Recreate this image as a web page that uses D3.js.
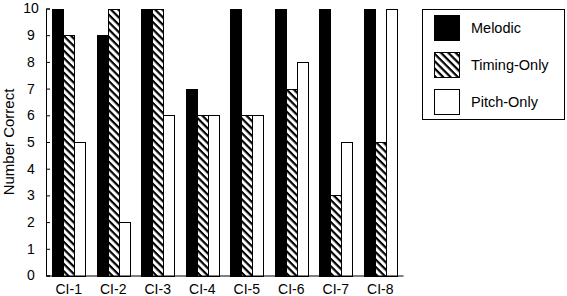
<!DOCTYPE html>
<html><head><meta charset="utf-8">
<script src="https://cdn.jsdelivr.net/npm/d3@7"></script>
<style>
html,body{margin:0;padding:0;background:#fff;}
text{font-family:"Liberation Sans",Arial,Helvetica,sans-serif;fill:#000;}
</style>
</head><body>
<svg id="chart" width="567" height="296"></svg>
<script>
const categories = ["CI-1","CI-2","CI-3","CI-4","CI-5","CI-6","CI-7","CI-8"];
const seriesNames = ["Melodic","Timing-Only","Pitch-Only"];
const melodic    = [10, 9, 10, 7, 10, 10, 10, 10];
const timingOnly = [9, 10, 10, 6, 6, 7, 3, 5];
const pitchOnly  = [5, 2, 6, 6, 6, 8, 5, 10];
const yTicks = [0,1,2,3,4,5,6,7,8,9,10];
const yLabel = "Number Correct";

(function(){
const seriesValues = [melodic, timingOnly, pitchOnly];
const fills = ["#000", "url(#hatch)", "#fff"];

const svg = d3.select("#chart");
const defs = svg.append("defs");
const pat = defs.append("pattern")
  .attr("id","hatch").attr("patternUnits","userSpaceOnUse")
  .attr("width",5.2).attr("height",5.2)
  .attr("patternTransform","rotate(45)");
pat.append("rect").attr("width",5.2).attr("height",5.2).attr("fill","#fff");
pat.append("rect").attr("x",0).attr("y",0).attr("width",5.2).attr("height",2.2).attr("fill","#000");

const mLeft = 46, mRight = 403, mTop = 8.5, mBottom = 275.5;

const x = d3.scaleBand().domain(categories).range([mLeft, mRight])
  .paddingInner(0.26).paddingOuter(0.14);
const xs = d3.scaleBand().domain(seriesNames).range([0, x.bandwidth()]);
const y = d3.scaleLinear().domain([0,10]).range([mBottom, mTop]);

seriesNames.forEach((s, si) => {
  svg.append("g").selectAll("rect")
    .data(categories.map((c,i) => ({c, v: seriesValues[si][i]})))
    .join("rect")
    .attr("x", d => Math.round(x(d.c) + xs(s)) + 0.5)
    .attr("y", d => Math.round(y(d.v)) + 0.5)
    .attr("width", Math.round(xs.bandwidth()))
    .attr("height", d => Math.round(mBottom) - Math.round(y(d.v)))
    .attr("fill", fills[si])
    .attr("stroke", "#000").attr("stroke-width", 1);
});

const yAxis = d3.axisLeft(y).tickValues(yTicks).tickSize(-4).tickPadding(0).tickFormat(d3.format("d"));
const gy = svg.append("g").attr("transform", `translate(${mLeft},0)`).call(yAxis);
gy.select(".domain").attr("stroke","#000");
gy.selectAll(".tick line").attr("stroke","#000");
gy.selectAll(".tick text").attr("x", -15).attr("text-anchor","middle")
  .attr("font-size", 14).attr("font-family", '"Liberation Sans",Arial,sans-serif').attr("fill","#000");

const xAxis = d3.axisBottom(x).tickSize(0).tickPadding(9);
const gx = svg.append("g").attr("transform", `translate(0,${mBottom})`).call(xAxis);
gx.select(".domain").attr("stroke","#000");
gx.selectAll(".tick text").attr("font-size", 14)
  .attr("font-family", '"Liberation Sans",Arial,sans-serif').attr("fill","#000");

svg.append("text").attr("transform", "translate(14,142) rotate(-90)")
  .attr("text-anchor","middle").attr("font-size", 15).text(yLabel);

const lg = svg.append("g");
lg.append("rect").attr("x", 422.5).attr("y", 9.5).attr("width", 142).attr("height", 110)
  .attr("fill","#fff").attr("stroke","#000");
const ly = d3.scalePoint().domain(seriesNames).range([28, 102]);
seriesNames.forEach((s, si) => {
  lg.append("rect").attr("x", 434.5).attr("y", Math.round(ly(s)) - 13 + 0.5)
    .attr("width", 25).attr("height", 25).attr("fill", fills[si]).attr("stroke","#000");
  lg.append("text").attr("x", 471).attr("y", ly(s) + 5).attr("font-size", 14.5).text(s);
});
})();
</script>
</body></html>
